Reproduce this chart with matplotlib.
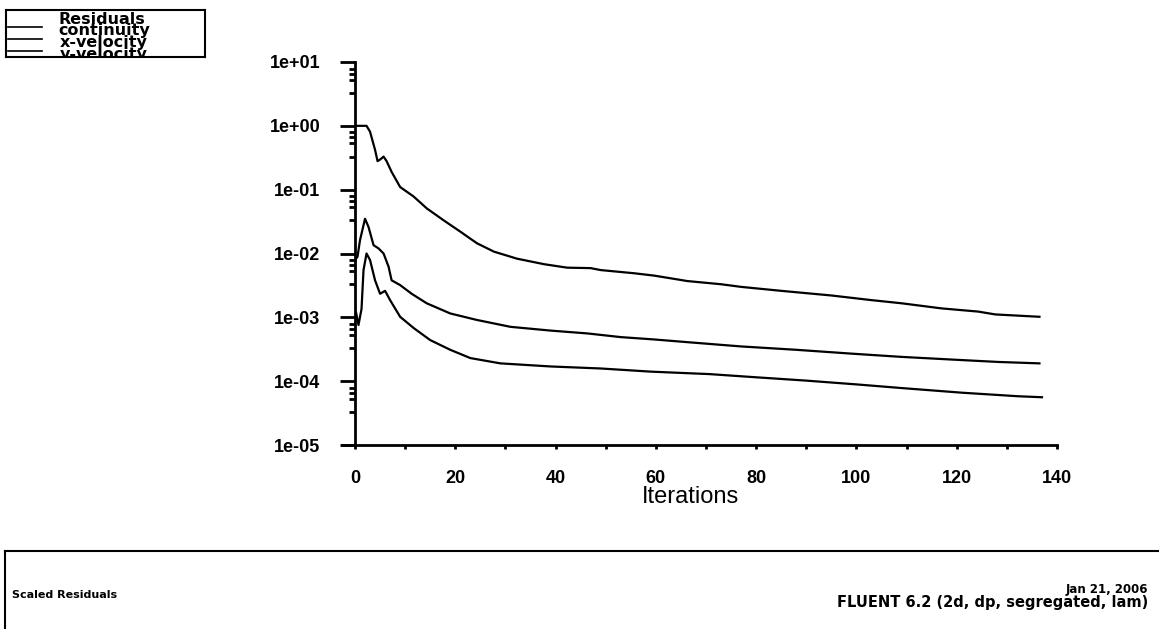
import matplotlib
matplotlib.use('Agg')
import matplotlib.pyplot as plt
from matplotlib.lines import Line2D
import numpy as np

# residual history
it_cont = [0, 2.3, 3, 4, 4.5, 5.1, 5.7, 6.3, 7.3, 9, 11.7, 14.3, 17.7, 21, 24.3, 27.7,
           32.3, 37.7, 42.3, 47, 49, 55.7, 59.7, 66.3, 73, 77, 85, 95, 103, 109, 117,
           124.3, 127.7, 136.5]
continuity = [1.0, 1.0, 0.81, 0.42, 0.28, 0.30, 0.33, 0.28, 0.19, 0.11, 0.078, 0.051,
              0.033, 0.022, 0.0145, 0.0107, 0.0083, 0.0068, 0.0060, 0.0059, 0.0055,
              0.0049, 0.0045, 0.0037, 0.0033, 0.0030, 0.0026, 0.0022, 0.00186,
              0.00166, 0.00138, 0.00123, 0.00111, 0.00102]

it_xvel = [0, 0.5, 1, 2, 2.7, 3.7, 4.7, 5.7, 6.7, 7.3, 9, 11.3, 14.3, 19, 24.3, 31, 39,
           46.3, 53, 59.7, 66, 77, 88, 99, 109, 121, 128.3, 136.5]
x_velocity = [0.0079, 0.0089, 0.0162, 0.035, 0.026, 0.0135, 0.012, 0.010, 0.0062,
              0.0038, 0.0032, 0.00234, 0.00166, 0.00115, 0.00091, 0.00071, 0.00062,
              0.00056, 0.00049, 0.00045, 0.00041, 0.00035, 0.00031, 0.00027, 0.00024,
              0.000214, 0.0002, 0.00019]

it_yvel = [0, 0.2, 0.7, 1.3, 1.7, 2.3, 3, 4, 5, 6, 7, 9, 11.7, 15, 19, 23, 29, 39, 49,
           59, 70.7, 80, 90, 100, 109, 121, 132.3, 137]
y_velocity = [0.00112, 0.0012, 0.00076, 0.00135, 0.0055, 0.010, 0.0079, 0.0038,
              0.00234, 0.0026, 0.00186, 0.00102, 0.00068, 0.00044, 0.00031, 0.00023,
              0.00019, 0.00017, 0.000158, 0.000141, 0.000129, 0.000115, 0.000102,
              8.9e-5, 7.8e-5, 6.6e-5, 5.8e-5, 5.6e-5]

legend_names = ['continuity', 'x-velocity', 'y-velocity']
y_ticks = [1e-5, 1e-4, 1e-3, 1e-2, 1e-1, 1e0, 1e1]
y_ticklabels = ['1e-05', '1e-04', '1e-03', '1e-02', '1e-01', '1e+00', '1e+01']
x_ticks = [0, 20, 40, 60, 80, 100, 120, 140]

plt.rcParams['font.family'] = ['Liberation Sans', 'DejaVu Sans']

W, H = 1159, 629
fig = plt.figure(figsize=(W/100, H/100), dpi=100)

def fx(px):
    return px / W

def fy(py):
    return 1 - py / H

ax = fig.add_axes([fx(355), fy(445), fx(1057) - fx(355), fy(62) - fy(445)])
ax.plot(it_cont, continuity, color='black', lw=1.6)
ax.plot(it_xvel, x_velocity, color='black', lw=1.6)
ax.plot(it_yvel, y_velocity, color='black', lw=1.6)

ax.set_yscale('log')
ax.set_xlim(0, 140)
ax.set_ylim(1e-5, 1e1)
ax.spines['top'].set_visible(False)
ax.spines['right'].set_visible(False)
ax.spines['left'].set_linewidth(2)
ax.spines['bottom'].set_linewidth(2)
ax.spines['bottom'].set_bounds(-2.5, 140)
ax.set_yticks(y_ticks)
ax.set_yticklabels(y_ticklabels, fontweight='bold')
ax.yaxis.set_minor_locator(matplotlib.ticker.LogLocator(base=10, subs=[3.3, 5.3, 6.6, 7.9]))
ax.yaxis.set_minor_formatter(matplotlib.ticker.NullFormatter())
ax.tick_params(axis='y', which='major', length=11, width=2, pad=14, labelsize=13)
ax.tick_params(axis='y', which='minor', length=4, width=2)
ax.set_xticks(x_ticks)
ax.set_xticklabels([str(v) for v in x_ticks], fontweight='bold')
ax.set_xticks(np.arange(10, 140, 20), minor=True)
ax.tick_params(axis='x', which='major', length=3, width=2, pad=15, labelsize=13)
ax.tick_params(axis='x', which='minor', length=3, width=2)
fig.text(fx(691), fy(497), 'Iterations', ha='center', va='center', fontsize=17)

# legend box in the top-left corner (last entry is cut by the frame, as in the original)
lax = fig.add_axes([fx(6), fy(57), fx(205) - fx(6), fy(10) - fy(57)])
lax.set_xlim(0, 199)
lax.set_ylim(47, 0)
lax.set_xticks([])
lax.set_yticks([])
for s in lax.spines.values():
    s.set_linewidth(1.5)
lax.text(96, 9, 'Residuals', ha='center', va='center', fontsize=11.5, fontweight='bold',
         family='DejaVu Sans', clip_on=True)
for k, name in enumerate(legend_names):
    yy = 21 + k * 12
    lax.add_line(Line2D([2, 36], [yy - 4, yy - 4], color='black', lw=1.2))
    lax.text(98, yy, name, ha='center', va='center', fontsize=11.5, fontweight='bold',
             family='DejaVu Sans', clip_on=True)

# footer frame
fig.add_artist(Line2D([fx(5), fx(1159)], [fy(551), fy(551)], color='black', lw=1.5))
fig.add_artist(Line2D([fx(5), fx(5)], [fy(551), fy(629)], color='black', lw=1.5))
fig.text(fx(12), fy(595), 'Scaled Residuals', ha='left', va='center', fontsize=8,
         fontweight='bold', family='DejaVu Sans')
fig.text(fx(1148), fy(589), 'Jan 21, 2006', ha='right', va='center', fontsize=8.5,
         fontweight='bold', family='DejaVu Sans')
fig.text(fx(1148), fy(602), 'FLUENT 6.2 (2d, dp, segregated, lam)', ha='right',
         va='center', fontsize=10.5, fontweight='bold', family='DejaVu Sans')

fig.savefig('out.png', dpi=100, facecolor='white')
